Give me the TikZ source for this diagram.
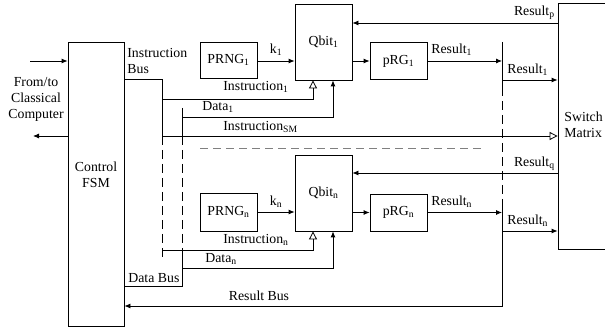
\documentclass[tikz,border=0pt]{standalone}
\usepackage{fontspec}
\setmainfont{Liberation Serif}
\usetikzlibrary{arrows.meta}

\begin{document}
\begin{tikzpicture}[
  x=1pt, y=-1pt,
  line width=0.8pt,
  font=\fontsize{13.8}{16}\selectfont,
  blk/.style={draw, minimum width=57pt, inner sep=0pt},
  lbl/.style={inner sep=1pt},
  fa/.style={-{Latex[length=6pt,width=5pt]}},
  oa/.style={-{Triangle[open,length=8pt,width=8pt]}},
  busdash/.style={dash pattern=on 9pt off 5pt}
]
  \useasboundingbox (0,0) rectangle (605,331);

  % Bus corners
  \coordinate (ibus) at (162,79);
  \coordinate (ibusA) at (162,136);
  \coordinate (ibusB) at (162,259);
  \coordinate (dbus) at (182,108);
  \coordinate (dbusA) at (182,136);
  \coordinate (dbusB) at (182,253);
  \coordinate (dbusC) at (182,286);
  \coordinate (rbus) at (502,42);
  \coordinate (rbusA) at (502,87);
  \coordinate (rbusB) at (502,200);
  \coordinate (rbusC) at (502,306);
  \coordinate (hostin) at (30,61);
  \coordinate (hostout) at (33,136);

  % Control FSM and Switch Matrix
  \node[blk, minimum width=56pt, minimum height=284pt] (fsm) at (96,184) {};
  \node[align=center] (fsmtxt) at (96,175) {Control\\FSM};
  \node[blk, minimum width=60pt, minimum height=246pt] (sw) at (588,126) {};
  \node[align=left, anchor=west, lbl] (swtxt) at (563,125) {Switch\\Matrix};

  % Upper qubit slice
  \node[blk, minimum height=76pt] (qbit1) at (323.5,42) {Qbit\textsubscript{1}};
  \node[blk, minimum height=36pt] (prng1) at (228.5,60) {PRNG\textsubscript{1}};
  \node[blk, minimum height=37pt] (prg1) at (398.5,61) {pRG\textsubscript{1}};

  % Lower qubit slice
  \node[blk, minimum height=76pt] (qbitn) at (323.5,193) {Qbit\textsubscript{n}};
  \node[blk, minimum height=38pt] (prngn) at (228.5,212) {PRNG\textsubscript{n}};
  \node[blk, minimum height=37pt] (prgn) at (398.5,212.5) {pRG\textsubscript{n}};

  % Host link
  \draw[fa] (hostin) -- (hostin -| fsm.west);
  \draw[fa] (fsm.west |- hostout) -- (hostout);
  \node[align=center, lbl] (host) at (36,99) {From/to\\Classical\\Computer};

  % Instruction bus
  \draw (fsm.east |- ibus) -- (ibus) -- (ibusA);
  \draw[busdash] (ibusA) -- (ibusB);
  \node[align=left, anchor=west, lbl] (ibuslbl) at (126,61) {Instruction\\Bus};

  % Data bus
  \draw (dbus) -- (dbusA);
  \draw[busdash] (dbusA) -- (dbusB);
  \draw (dbusB) -- (dbusC) -- (fsm.east |- dbusC);
  \node[anchor=west, lbl] (dbuslbl) at (127,278) {Data Bus};

  % Result bus
  \draw (rbus) -- (rbusA);
  \draw[busdash] (rbusA) -- (rbusB);
  \draw[fa] (rbusB) -- (rbusC) -- (fsm.east |- rbusC);
  \node[lbl] (rbuslbl) at (259,296) {Result Bus};

  % Slice 1 links
  \draw[fa] (prng1.east |- 0,61) -- (qbit1.west |- 0,61);
  \node[lbl] (k1) at (276,50) {k\textsubscript{1}};
  \draw[fa] (qbit1.east |- 0,61) -- (prg1.west |- 0,61);
  \draw[fa] (prg1.east) -- (prg1.east -| rbus);
  \node[anchor=west, lbl] (res1) at (430,50) {Result\textsubscript{1}};
  \draw[oa] (ibus |- 0,99) -| ([xshift=-10.5pt]qbit1.south);
  \node[anchor=west, lbl] (ins1) at (222,87) {Instruction\textsubscript{1}};
  \draw[fa] (dbus |- 0,117) -| ([xshift=9.5pt]qbit1.south);
  \node[anchor=west, lbl] (dat1) at (201,107) {Data\textsubscript{1}};

  % Slice n links
  \draw[fa] (prngn.east) -- (qbitn.west |- prngn.east);
  \node[lbl] (kn) at (276,202) {k\textsubscript{n}};
  \draw[fa] (qbitn.east |- prgn.west) -- (prgn.west);
  \draw[fa] (prgn.east) -- (prgn.east -| rbus);
  \node[anchor=west, lbl] (resn) at (430,202) {Result\textsubscript{n}};
  \draw[oa] (ibus |- 0,250) -| ([xshift=-10.5pt]qbitn.south);
  \node[anchor=west, lbl] (insn) at (222,240) {Instruction\textsubscript{n}};
  \draw[fa] (dbus |- 0,268) -| ([xshift=9.5pt]qbitn.south);
  \node[anchor=west, lbl] (datn) at (204,259) {Data\textsubscript{n}};

  % Switch matrix links
  \draw[oa] (ibusA) -- (sw.west |- ibusA);
  \node[anchor=west, lbl] (inssm) at (222,127) {Instruction\textsubscript{SM}};
  \draw[fa] (sw.west |- 0,23) -- (qbit1.east |- 0,23);
  \node[anchor=east, lbl] (resp) at (556,13) {Result\textsubscript{p}};
  \draw[fa] (sw.west |- 0,173) -- (qbitn.east |- 0,173);
  \node[anchor=east, lbl] (resq) at (556,164) {Result\textsubscript{q}};
  \draw[fa] (rbus |- 0,80) -- (sw.west |- 0,80);
  \node[anchor=west, lbl] (res1o) at (506,70) {Result\textsubscript{1}};
  \draw[fa] (rbus |- 0,231) -- (sw.west |- 0,231);
  \node[anchor=west, lbl] (resno) at (506,221) {Result\textsubscript{n}};

  % Slice separator
  \draw[gray, line width=0.6pt, dash pattern=on 8pt off 5pt] (200,148) -- (483,148);
\end{tikzpicture}
\end{document}
